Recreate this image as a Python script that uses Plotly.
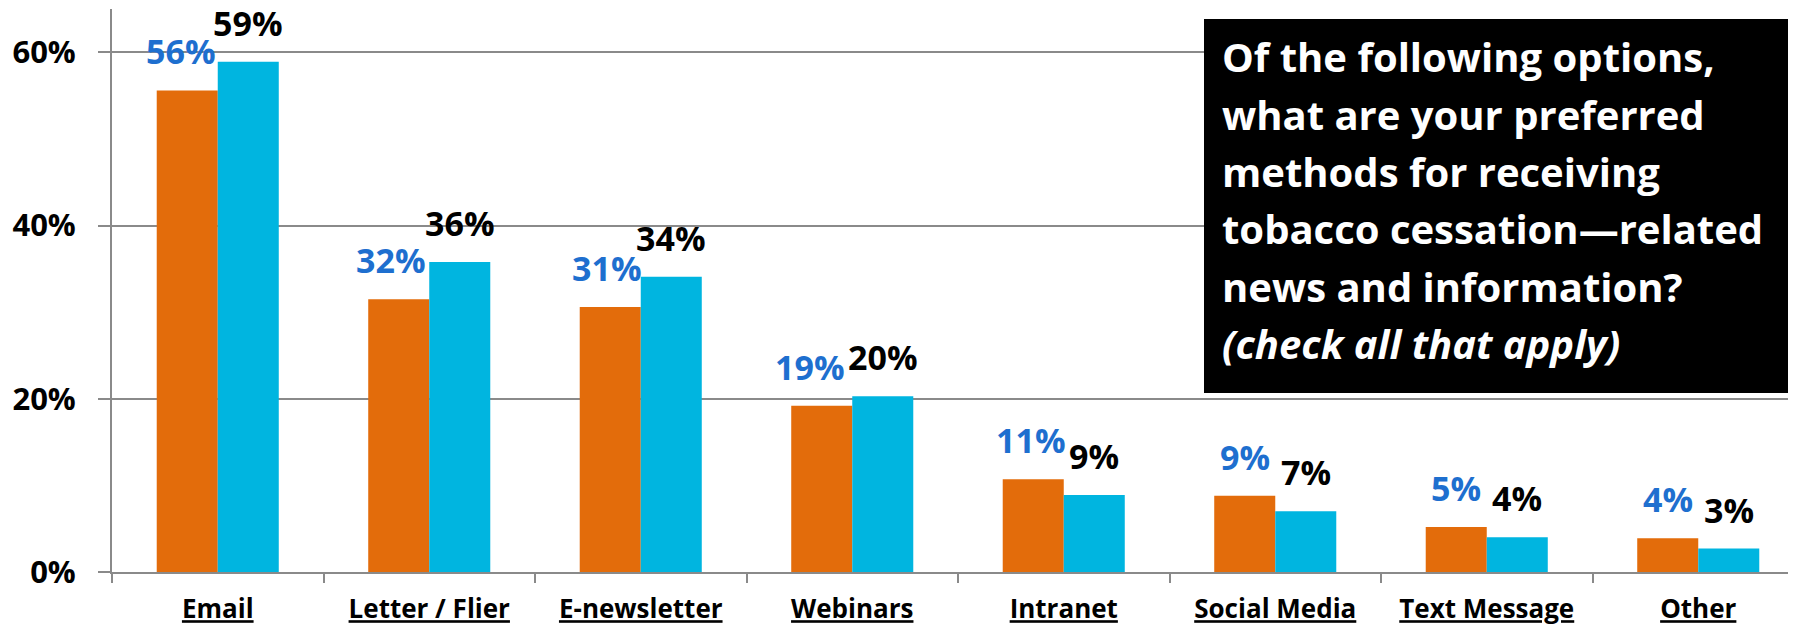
import plotly.graph_objects as go

categories = ["Email", "Letter / Flier", "E-newsletter", "Webinars",
              "Intranet", "Social Media", "Text Message", "Other"]
series_a = [55.6, 31.5, 30.6, 19.2, 10.7, 8.8, 5.2, 3.9]   # orange
series_b = [58.9, 35.8, 34.1, 20.3, 8.9, 7.0, 4.0, 2.7]    # cyan
labels_a = ["56%", "32%", "31%", "19%", "11%", "9%", "5%", "4%"]
labels_b = ["59%", "36%", "34%", "20%", "9%", "7%", "4%", "3%"]
y_ticks = [0, 20, 40, 60]
y_ticktext = ["0%", "20%", "40%", "60%"]
question_lines = [
    "Of the following options,",
    "what are your preferred",
    "methods for receiving",
    "tobacco cessation\u2014related",
    "news and information?",
    "<i>(check all that apply)</i>",
]

ORANGE = "#E36C0B"
CYAN = "#00B5E0"
BLUE = "#1E6FCF"
GRID = "#8A8A8A"
FONT = "Open Sans"

W, H = 1796, 629
ML, MR, MT, MB = 104, 0, 1, 65
PW, PH = W - ML - MR, H - MT - MB

# horizontal nudges (px) of the orange-series labels, to avoid collisions
label_nudge_a = [-6, -8, -3, -12, -2, 0, 0, 0]

x_idx = list(range(len(categories)))
tick_labels = [f"<b><u>{c}</u></b>" for c in categories]

fig = go.Figure()
fig.add_trace(go.Bar(x=x_idx, y=series_a, marker=dict(color=ORANGE, line=dict(width=0)),
                     name="A", showlegend=False))
fig.add_trace(go.Bar(x=x_idx, y=series_b, marker=dict(color=CYAN, line=dict(width=0)),
                     name="B", showlegend=False))

annotations = []
off = 0.1443
for i, (va, vb, la, lb) in enumerate(zip(series_a, series_b, labels_a, labels_b)):
    annotations.append(dict(x=i - off, y=va, xref="x", yref="y", text=f"<b>{la}</b>",
                            showarrow=False, yanchor="bottom", yshift=14,
                            xshift=label_nudge_a[i],
                            font=dict(family=FONT, size=34, color=BLUE)))
    annotations.append(dict(x=i + off, y=vb, xref="x", yref="y", text=f"<b>{lb}</b>",
                            showarrow=False, yanchor="bottom", yshift=14,
                            font=dict(family=FONT, size=34, color="black")))

def py(px):
    return (H - MB - px) / PH

def pxx(px):
    return (px - ML) / PW

first, step = 49.0, 57.3
for k, t in enumerate(question_lines):
    c = first + step * k
    annotations.append(dict(x=pxx(1212), y=py(c), xref="paper", yref="paper",
                            text=f"<b>{t}</b>", showarrow=False, xanchor="left",
                            yanchor="middle",
                            font=dict(family=FONT, size=40, color="white")))

fig.update_layout(
    width=W, height=H,
    margin=dict(l=ML, r=MR, t=MT, b=MB, pad=0),
    plot_bgcolor="white", paper_bgcolor="white",
    barmode="group", bargap=0.423, bargroupgap=0,
    annotations=annotations,
    shapes=[dict(type="rect", xref="paper", yref="paper",
                 x0=pxx(1196), x1=pxx(1780), y0=py(385), y1=py(11),
                 fillcolor="black", line=dict(width=0), layer="above")],
    xaxis=dict(
        type="linear", range=[-0.5, 7.5],
        tickmode="array", tickvals=x_idx, ticktext=tick_labels,
        showgrid=False, showline=True, linecolor=GRID, linewidth=2,
        ticks="", tickfont=dict(family=FONT, size=26, color="black"),
        ticklabelstandoff=13, zeroline=False, automargin=False,
    ),
    xaxis2=dict(
        overlaying="x", range=[-0.5, 7.5], tickmode="array",
        tickvals=[i - 0.5 for i in range(len(categories) + 1)],
        ticktext=[""] * (len(categories) + 1), ticks="outside", ticklen=10,
        tickwidth=2, tickcolor=GRID, showgrid=False, showline=False,
        zeroline=False, anchor="y", automargin=False,
    ),
    yaxis=dict(
        range=[0, 65], tickmode="array", tickvals=y_ticks, ticktext=y_ticktext,
        showgrid=True, gridcolor=GRID, gridwidth=1.75,
        showline=True, linecolor=GRID, linewidth=2,
        ticks="outside", ticklen=12, tickwidth=2, tickcolor=GRID,
        tickfont=dict(family=FONT, size=31, color="black", weight="bold"),
        ticklabelstandoff=16, zeroline=False, automargin=False,
    ),
    font=dict(family=FONT),
)
fig.add_trace(go.Scatter(x=[0], y=[0], xaxis="x2", mode="markers",
                         marker=dict(opacity=0), showlegend=False, hoverinfo="skip"))

fig.write_html("out.html")
